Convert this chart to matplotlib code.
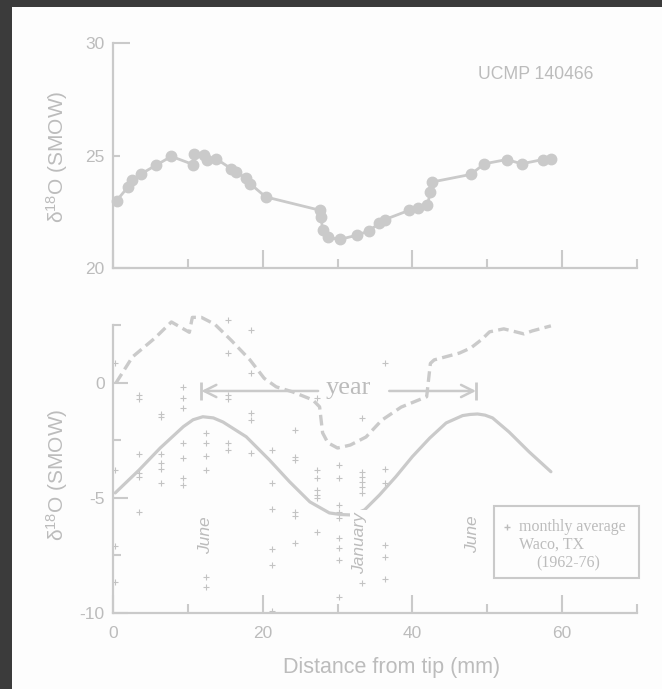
import matplotlib
matplotlib.use('Agg')
import matplotlib.pyplot as plt
from matplotlib.patches import Rectangle
from matplotlib.ticker import FixedLocator

plt.rcParams['font.family'] = ['Liberation Sans', 'DejaVu Sans']
plt.rcParams['mathtext.default'] = 'regular'

# ---------------- data ----------------
# Upper panel: tooth enamel d18O (SMOW) vs distance from tip (mm)
tooth_x = [0.5, 2.0, 2.5, 3.8, 5.7, 7.8, 10.7, 10.8, 12.2, 12.5, 13.8, 15.8, 16.4,
           17.8, 18.3, 20.4, 27.6, 27.8, 28.0, 28.7, 30.3, 32.6, 34.2, 35.6, 36.3,
           39.6, 40.7, 42.0, 42.4, 42.6, 47.8, 49.6, 52.6, 54.6, 57.4, 58.5]
tooth_d18o = [23.0, 23.6, 23.9, 24.19, 24.56, 24.96, 24.6, 25.07, 25.04, 24.8, 24.85,
              24.41, 24.26, 24.0, 23.75, 23.16, 22.57, 22.27, 21.68, 21.36, 21.27,
              21.46, 21.65, 22.0, 22.15, 22.57, 22.67, 22.79, 23.38, 23.82, 24.16,
              24.63, 24.82, 24.63, 24.82, 24.85]

# Lower panel: calculated water d18O (dashed)
water_x = [0.4, 2.6, 5.6, 7.8, 10.2, 10.6, 11.8, 13.6, 15.8, 18.3, 20.2, 21.8, 24.0,
           26.7, 27.6, 28.0, 28.7, 30.0, 31.7, 33.8, 35.9, 38.5, 41.9, 42.4, 42.9,
           46.3, 47.8, 49.3, 50.3, 52.2, 53.8, 54.9, 56.0, 58.5]
water_d18o = [0.0, 1.13, 1.95, 2.65, 2.2, 2.85, 2.85, 2.55, 1.85, 1.0, 0.2, -0.17,
              -0.39, -0.74, -1.04, -2.17, -2.6, -2.83, -2.7, -2.35, -1.62, -1.05,
              -0.6, 0.85, 1.0, 1.3, 1.52, 1.9, 2.22, 2.35, 2.22, 2.13, 2.26, 2.48]

# Lower panel: seasonal precipitation curve (solid)
season_x = [0.3, 3.5, 6.3, 9.4, 10.7, 12.0, 13.4, 14.7, 17.8, 20.9, 23.6, 26.3, 28.9,
            30.4, 31.9, 33.6, 35.6, 37.8, 40.0, 42.3, 44.5, 46.7, 47.7, 48.7, 49.7,
            50.7, 52.9, 55.6, 58.5]
season_d18o = [-4.78, -3.78, -2.83, -1.9, -1.6, -1.47, -1.52, -1.7, -2.34, -3.35,
               -4.3, -5.17, -5.65, -5.72, -5.74, -5.52, -4.87, -4.07, -3.2, -2.4,
               -1.74, -1.42, -1.37, -1.35, -1.4, -1.52, -2.13, -3.0, -3.86]

# Lower panel: monthly averages, Waco TX (1962-76)
monthly_x = ([0.3] * 4 + [3.5] * 6 + [6.4] * 6 + [9.4] * 7 + [12.4] * 6 + [15.3] * 6 +
             [18.4] * 5 + [21.3] * 6 + [24.3] * 6 + [27.2] * 7 + [30.2] * 9 +
             [33.2] * 7 + [36.3] * 6)
monthly_d18o = [0.87, -3.78, -7.1, -8.65,
                -0.52, -0.7, -3.1, -3.9, -4.1, -5.6,
                -1.35, -1.48, -3.1, -3.5, -3.74, -4.35,
                -0.17, -0.65, -1.09, -2.6, -3.26, -4.13, -4.43,
                -2.17, -2.6, -3.17, -3.78, -8.43, -8.87,
                2.74, 1.3, -0.52, -0.7, -2.6, -2.9,
                2.3, 0.43, -1.3, -1.6, -3.04,
                -2.9, -4.35, -5.5, -7.2, -7.9, -9.9,
                -2.04, -3.2, -3.35, -5.6, -5.8, -6.96,
                -0.65, -3.78, -4.13, -4.65, -4.87, -5.0, -6.48,
                -3.57, -4.13, -5.3, -5.6, -5.87, -6.74, -7.17, -7.7, -9.3,
                -1.52, -3.87, -4.09, -4.3, -4.52, -4.78, -8.7,
                0.87, -3.74, -4.35, -7.04, -7.57, -8.52]

x_major = [0, 20, 40, 60]
x_minor = [10, 30, 50, 70]
top_y_major = [20, 30]
top_y_minor = [25]
bot_y_major = [-10, -5, 0]
bot_y_minor = [-7.5, -2.5, 2.5]

# ---------------- styling ----------------
LINE = '#cacaca'
TEXT = '#bcbcbc'
W, H = 662, 689

fig = plt.figure(figsize=(W / 100, H / 100), dpi=100, facecolor='#3b3b3b')
fig.patches.append(Rectangle((12 / W, 0), 1, 1 - 7 / H, transform=fig.transFigure,
                             facecolor='#fdfdfd', edgecolor='none', zorder=-10))

ax1 = fig.add_axes([113 / W, 1 - 268 / H, 524 / W, 225 / H])
ax2 = fig.add_axes([113 / W, 1 - 613 / H, 524 / W, 306 / H])

for ax in (ax1, ax2):
    ax.set_facecolor('none')
    ax.set_xlim(0, 70)
    for s in ('top', 'right'):
        ax.spines[s].set_visible(False)
    for s in ('left', 'bottom'):
        ax.spines[s].set_color(LINE)
        ax.spines[s].set_linewidth(1.6)
    ax.xaxis.set_major_locator(FixedLocator(x_major))
    ax.xaxis.set_minor_locator(FixedLocator(x_minor))
    ax.tick_params(axis='x', which='major', direction='in', length=13, width=1.5,
                   color=LINE, labelsize=12.5, labelcolor=TEXT, pad=9)
    ax.tick_params(axis='x', which='minor', direction='in', length=6.5, width=1.5,
                   color=LINE)
    ax.tick_params(axis='y', which='both', direction='in', width=1.5, color=LINE,
                   labelsize=12.5, labelcolor=TEXT, pad=6)

ax1.set_ylim(20, 30)
ax1.set_yticks(top_y_major, [str(v) for v in top_y_major])
ax1.set_yticks(top_y_minor, [str(v) for v in top_y_minor], minor=True)
ax1.tick_params(axis='y', which='major', length=12)
ax1.tick_params(axis='y', which='minor', length=5)
ax1.tick_params(axis='x', labelbottom=False)

ax2.set_ylim(-10, 3.3)
ax2.spines['left'].set_bounds(-10, 2.5)
ax2.set_yticks(bot_y_major, ['-10', '-5', '0'])
ax2.set_yticks(bot_y_minor, [], minor=True)
ax2.tick_params(axis='y', which='major', length=11)
ax2.tick_params(axis='y', which='minor', length=5.5)

# upper data
ax1.plot(tooth_x, tooth_d18o, '-o', color=LINE, lw=2.0, ms=7.5, mec=LINE, mfc=LINE,
         clip_on=False)
ax1.text(56.5, 28.58, 'UCMP 140466', ha='center', va='center', fontsize=12.7, color=TEXT)

# lower data
ax2.plot(monthly_x, monthly_d18o, '+', color='#c3c3c3', ms=4.5, mew=0.8, zorder=1)
ax2.plot(water_x, water_d18o, color=LINE, lw=2.4, dashes=(3.2, 1.6), zorder=2)
ax2.plot(season_x, season_d18o, color=LINE, lw=2.3, solid_capstyle='round', zorder=2)

# year arrow
ya = -0.35
ax2.annotate('', xy=(11.8, ya), xytext=(27.4, ya),
             arrowprops=dict(arrowstyle='->', color=LINE, lw=1.8, shrinkA=0, shrinkB=0,
                             mutation_scale=22))
ax2.annotate('', xy=(48.5, ya), xytext=(36.9, ya),
             arrowprops=dict(arrowstyle='->', color=LINE, lw=1.8, shrinkA=0, shrinkB=0,
                             mutation_scale=22))
ax2.plot([11.8, 48.5], [ya, ya], ls='none', marker='|', ms=13, mew=2.0, color=LINE)
ax2.text(31.4, -0.5, 'year', ha='center', va='baseline', fontsize=19,
         family='Liberation Serif', color=TEXT)

# month labels
ax2.text(12.3, -6.6, 'June', rotation=90, ha='center', va='center', fontsize=12.5,
         style='italic', color=TEXT)
ax2.text(48.0, -6.57, 'June', rotation=90, ha='center', va='center', fontsize=12.5,
         style='italic', color=TEXT)
ax2.text(33.0, -6.96, 'January', rotation=90, ha='center', va='center', fontsize=12.5,
         style='italic', color=TEXT, zorder=4,
         bbox=dict(facecolor='#fdfdfd', edgecolor='none', pad=1.5))

# legend box
ax2.add_patch(Rectangle((50.9, -8.48), 19.4, 3.13, fill=False, edgecolor=LINE, lw=1.5,
                        clip_on=False))
ax2.plot([52.7], [-6.26], '+', color=TEXT, ms=5, mew=1.0, clip_on=False)
ax2.text(54.3, -6.26, 'monthly average', ha='left', va='center', fontsize=11.5,
         family='Liberation Serif', color=TEXT)
ax2.text(54.3, -7.04, 'Waco, TX', ha='left', va='center', fontsize=11.5,
         family='Liberation Serif', color=TEXT)
ax2.text(56.5, -7.83, '(1962-76)', ha='left', va='center', fontsize=11.5,
         family='Liberation Serif', color=TEXT)

# axis titles
fig.text(57 / W, 1 - 157 / H, 'δ$^{18}$O (SMOW)', rotation=90, ha='center', va='center',
         fontsize=15, color=TEXT)
fig.text(57 / W, 1 - 475 / H, 'δ$^{18}$O (SMOW)', rotation=90, ha='center', va='center',
         fontsize=15, color=TEXT)
fig.text(392 / W, 1 - 667 / H, 'Distance from tip (mm)', ha='center', va='center',
         fontsize=15.5, color=TEXT)

fig.savefig('out.png', dpi=100, facecolor=fig.get_facecolor())
